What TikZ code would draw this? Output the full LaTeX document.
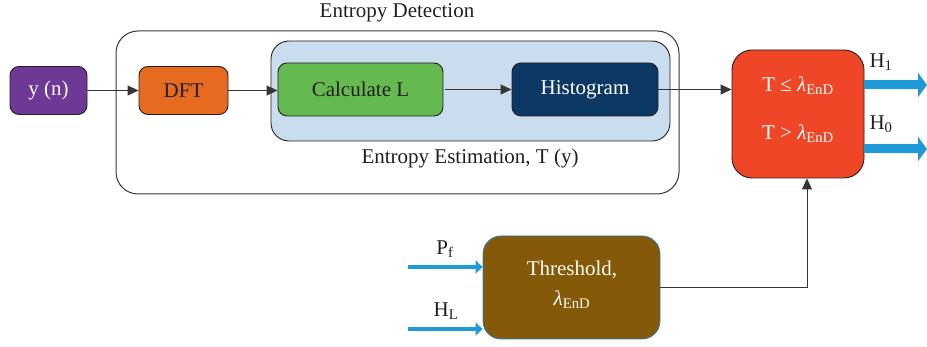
\documentclass[tikz,border=0pt]{standalone}
\usepackage{fontspec}
\setmainfont{Liberation Serif}
\usetikzlibrary{arrows.meta}
\definecolor{txt}{HTML}{231F20}
\definecolor{cpurple}{HTML}{6E3996}
\definecolor{corange}{HTML}{E66A1F}
\definecolor{cgreen}{HTML}{65BA4F}
\definecolor{cnavy}{HTML}{0C3866}
\definecolor{clight}{HTML}{CADDEF}
\definecolor{cred}{HTML}{EF4628}
\definecolor{cbrown}{HTML}{845A0A}
\definecolor{cblue}{HTML}{1E9BD6}
\definecolor{cblueedge}{HTML}{2A7AB0}
\newcommand{\lamEnD}{\textit{λ}\textsubscript{EnD}}
\begin{document}
\begin{tikzpicture}[x=1pt,y=-1pt,
  every node/.style={font=\fontsize{21}{25}\selectfont, text=txt, inner sep=0pt},
  box/.style={draw=txt, line width=0.9pt, rounded corners=9pt},
  arr/.style={draw=txt!90, line width=1pt, -{Triangle[length=11pt,width=10pt]}},
  bigblue/.style={draw=cblue, line width=9pt, -{Triangle[length=9pt,width=24pt]}},
  smallblue/.style={draw=cblue, line width=4.5pt, -{Triangle[length=7pt,width=13pt]}}]
\useasboundingbox (0,0) rectangle (927,347);
% outer groups
\node[draw=txt!90, line width=1pt, rounded corners=22pt, minimum width=563pt, minimum height=163pt] (outer) at (397.5,112.5) {};
\node (outerlbl) at (397,13) {Entropy Detection};
\node[box, fill=clight, rounded corners=18pt, minimum width=399pt, minimum height=100pt] (est) at (470.5,91) {};
\node (estlbl) at (470,158) {Entropy Estimation, T (y)};
% blocks
\node[box, fill=cpurple, text=white, minimum width=77pt, minimum height=48pt] (yn) at (48.5,90.5) {y (n)};
\node[box, fill=corange, minimum width=89pt, minimum height=48pt] (dft) at (183.5,90.5) {DFT};
\node[box, fill=cgreen, minimum width=165pt, minimum height=53pt] (calc) at (360.5,89.5) {Calculate L};
\node[box, fill=cnavy, text=white, minimum width=146pt, minimum height=53pt] (hist) at (585,89.5) {Histogram};
\node[box, fill=cred, rounded corners=20pt, minimum width=132pt, minimum height=128pt] (dec) at (798,114) {};
\node[text=white] (dec1) at (798,86) {T ≤ \lamEnD};
\node[text=white] (dec0) at (798,134) {T > \lamEnD};
\node[draw=cblueedge, line width=0.8pt, fill=cbrown, rounded corners=18pt, minimum width=177pt, minimum height=103pt] (thr) at (571.5,287.5) {};
\node[text=white!95!yellow] (thr1) at (572,270) {Threshold,};
\node[text=white!95!yellow] (thr2) at (572,300) {\lamEnD};
% connectors
\draw[arr] (yn.east) -- (dft.west);
\draw[arr] (dft.east) -- (dft.east -| calc.west);
\draw[arr, shorten <=2pt] (calc.east) -- (hist.west);
\draw[arr] (hist.east) -- (hist.east -| dec.west);
\draw[arr] (thr.east) -| ([xshift=9pt]dec.south);
% outputs
\coordinate (h1) at (927,85);
\coordinate (h0) at (927,149);
\draw[bigblue] (h1 -| dec.east) -- (h1);
\draw[bigblue] (h0 -| dec.east) -- (h0);
\node (h1lbl) at (881,62) {H\textsubscript{1}};
\node (h0lbl) at (881,124) {H\textsubscript{0}};
% inputs
\coordinate (pf) at (408,267);
\coordinate (hl) at (408,329);
\draw[smallblue] (pf) -- (pf -| thr.west);
\draw[smallblue] (hl) -- (hl -| thr.west);
\node (pflbl) at (445,249) {P\textsubscript{f}};
\node (hllbl) at (446,311) {H\textsubscript{L}};
\end{tikzpicture}
\end{document}
